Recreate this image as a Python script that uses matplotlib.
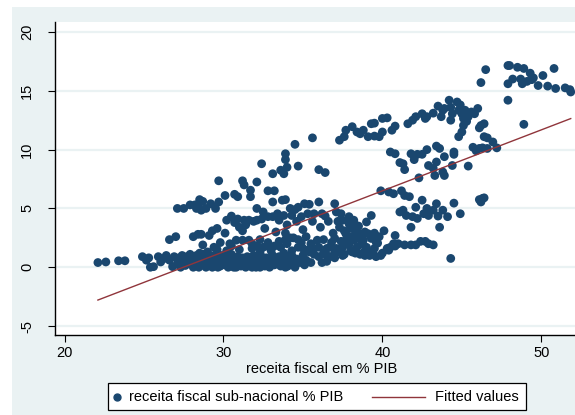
import numpy as np
import matplotlib
matplotlib.use("Agg")
import matplotlib.pyplot as plt
from matplotlib.patches import Rectangle
from matplotlib.lines import Line2D

plt.rcParams['font.family'] = ['Liberation Sans', 'DejaVu Sans']

# receita fiscal em % PIB (x) vs receita fiscal sub-nacional % PIB (y), grouped by area of the plot
low_left = [(22.1, 0.4), (22.6, 0.45), (23.4, 0.55), (23.8, 0.55),
            (24.9, 0.9), (25.15, 0.6), (25.3, 0.8), (25.4, 0.0), (25.6, 0.05), (25.9, 0.9),
            (26.05, 0.45), (26.2, 0.7), (26.4, 1.0), (26.6, 0.6), (26.8, 0.05), (26.9, 0.9)]

low_band = [(27.1, 0.3), (27.2, 0.8), (27.25, 0.55), (27.3, 0.0), (27.4, 1.0), (27.45, 0.7),
            (27.5, 0.5), (27.6, 0.15), (27.7, 0.9), (27.8, 0.6), (27.9, 1.1), (27.9, 0.35),
            (28.0, 0.3), (28.1, 0.0), (28.2, 0.8), (28.3, 1.0), (28.4, 0.5), (28.45, 0.0),
            (28.5, 0.9), (28.6, 0.2), (28.7, 1.1), (28.75, 0.35), (28.8, 0.6), (28.9, 0.0),
            (29.0, 0.9), (29.05, 0.15), (29.1, 0.4), (29.2, 0.7), (29.3, 0.0), (29.4, 1.0),
            (29.5, 0.3), (29.55, 0.6), (29.6, 0.8), (29.65, 0.0), (29.7, 0.5), (29.8, 0.1),
            (29.9, 1.0), (30.0, 0.6), (30.05, 0.35), (30.1, 0.2), (30.2, 0.9), (30.3, 0.0),
            (30.35, 0.75), (30.4, 0.5), (30.5, 1.1), (30.6, 0.3), (30.65, 0.0), (30.7, 0.7),
            (30.8, 0.0), (30.9, 0.9), (31.0, 0.4), (31.05, 0.7), (31.1, 0.1), (31.2, 0.8),
            (31.25, 0.25), (31.3, 0.5), (31.4, 0.0), (31.5, 0.9), (31.55, 0.45), (31.6, 0.3),
            (31.7, 0.6), (31.8, 0.0), (31.9, 1.0), (32.0, 0.2), (32.05, 0.0), (32.1, 0.7),
            (32.2, 0.4), (32.3, 0.0), (32.4, 0.9), (32.5, 0.5), (32.55, 0.25), (32.6, 0.1),
            (32.7, 0.8), (32.8, 0.3), (32.9, 0.0), (33.0, 0.6), (33.05, 0.35), (33.1, 1.0),
            (33.2, 0.2), (33.3, 0.7), (33.4, 0.4), (33.5, 0.9), (33.55, 0.55), (33.6, 0.1),
            (33.7, 0.6), (33.8, 0.3), (33.9, 0.0), (34.0, 0.8), (34.05, 0.1), (34.1, 0.5),
            (34.3, 1.0), (34.4, 0.3), (34.5, 0.0), (34.6, 0.7), (34.8, 0.4), (35.0, 1.0),
            (35.1, 0.2), (35.2, 0.6), (35.5, 0.4), (35.7, 1.1), (36.0, 0.9), (36.2, 0.4),
            (36.5, 1.0), (36.5, 0.5), (36.7, 0.9), (37.0, 1.2), (37.0, 0.8), (37.3, 1.3),
            (37.5, 1.0), (37.6, 1.1), (38.0, 1.4), (38.1, 1.3), (38.3, 1.2), (38.6, 1.1),
            (39.1, 1.3), (39.6, 0.9), (40.0, 1.2), (40.3, 1.5), (40.5, 1.7)]

mid_band = [(28.5, 1.2), (28.8, 1.0), (29.0, 1.3), (29.6, 1.5), (30.2, 1.4), (30.8, 2.3),
            (31.0, 1.5), (31.2, 2.3), (31.6, 2.3), (31.8, 1.6), (31.8, 2.0), (32.1, 1.8),
            (32.3, 2.35), (32.3, 1.3), (32.5, 1.7), (32.9, 1.7), (33.0, 1.4), (33.2, 1.8),
            (33.6, 1.7), (33.8, 1.2), (33.9, 2.35), (34.2, 2.5), (34.3, 1.4), (34.4, 2.5),
            (34.7, 2.35), (34.7, 1.7), (35.0, 1.6), (35.3, 1.45), (35.4, 1.3), (35.7, 1.6),
            (36.0, 1.7), (36.3, 2.35), (36.3, 1.2), (36.5, 1.6), (36.7, 1.7), (37.0, 2.45),
            (37.1, 1.6), (37.5, 1.7), (37.7, 2.3), (37.9, 1.9), (38.2, 2.3), (38.4, 1.7),
            (38.7, 2.0), (38.9, 1.0), (39.0, 1.7), (39.2, 1.0), (39.5, 1.6), (39.7, 2.05),
            (39.9, 1.0), (40.1, 3.1), (40.3, 1.6), (40.4, 1.45), (40.8, 2.7),
            (40.7, 2.0), (41.0, 2.0), (41.4, 1.9), (41.8, 1.9), (42.1, 1.9), (42.4, 2.2),
            (42.7, 2.2), (42.9, 2.0), (43.2, 1.9), (44.3, 0.75),
            (34.0, 2.0), (34.9, 2.1), (35.5, 2.0), (35.9, 2.3), (36.8, 2.1), (33.5, 2.2),
            (32.8, 2.1), (30.5, 1.8), (29.4, 1.7), (38.9, 1.4), (39.4, 1.25), (40.8, 1.8)]

rising_left = [(26.6, 2.35), (27.0, 2.6), (28.1, 2.6), (28.4, 2.8), (28.6, 2.8), (28.7, 1.9),
               (29.1, 2.7), (29.3, 3.1), (29.6, 3.3), (29.8, 2.1), (30.1, 2.9), (30.4, 2.0),
               (27.1, 5.0), (27.5, 5.0), (27.9, 5.3), (28.2, 5.3), (28.3, 5.0), (28.5, 5.75),
               (28.5, 5.5), (28.6, 4.85), (28.7, 5.6), (28.9, 5.0), (29.2, 5.4), (29.5, 5.0),
               (29.7, 5.55), (30.1, 6.1), (29.7, 7.35)]

upper_mid = [(30.2, 4.0), (30.5, 4.35), (30.7, 3.8), (30.9, 4.1), (31.0, 3.4), (31.2, 3.1),
             (31.3, 4.0), (31.6, 4.0), (31.9, 3.9), (32.1, 4.0), (32.4, 4.1), (32.5, 4.7),
             (32.8, 4.3), (33.1, 5.55), (33.1, 4.3), (33.4, 4.55), (33.5, 4.0), (33.7, 5.7),
             (33.8, 4.4), (33.9, 5.75), (34.2, 5.0), (34.3, 4.4), (34.5, 4.9), (34.7, 5.1),
             (34.9, 4.3), (35.1, 5.4), (35.3, 4.55), (35.4, 5.35), (35.7, 4.55), (36.0, 5.55),
             (36.2, 4.55), (36.4, 4.35), (37.0, 5.4), (37.1, 4.7), (37.4, 4.55),
             (32.1, 5.0), (31.4, 3.6), (32.6, 3.3), (33.3, 3.0), (34.0, 3.6), (34.6, 3.9),
             (35.0, 3.2), (35.6, 3.9), (36.1, 3.4), (36.6, 3.9), (33.9, 2.9), (35.2, 2.6),
             (32.8, 6.5), (33.2, 6.5), (30.7, 6.2), (30.9, 6.0), (31.2, 7.35), (31.3, 7.0),
             (31.7, 6.55), (31.7, 6.0), (32.1, 7.25), (32.4, 8.8), (33.1, 7.95), (33.6, 8.25),
             (33.8, 7.95), (33.9, 9.15), (33.9, 9.65), (34.0, 8.5), (34.7, 8.6), (34.5, 10.45),
             (35.6, 11.0), (36.0, 8.3), (36.4, 8.05)]

blob_38 = [(37.3, 3.4), (37.5, 4.0), (37.6, 3.1), (37.9, 4.3), (37.7, 2.85), (37.9, 3.7),
           (38.1, 2.6), (38.2, 4.0), (38.3, 3.1), (38.4, 2.45), (38.6, 2.85), (38.8, 2.3),
           (39.0, 3.85), (39.1, 2.85), (39.3, 4.4), (39.3, 2.45), (39.6, 2.15), (39.8, 2.6),
           (38.0, 3.3), (38.5, 3.5), (38.9, 3.0), (37.4, 2.2), (36.9, 2.9),
           (37.8, 2.5), (38.3, 3.6), (38.7, 2.6), (39.5, 2.9), (37.2, 3.9)]

right_mid = [(39.9, 6.5), (40.4, 6.4), (40.7, 6.25), (41.1, 4.7), (41.2, 6.5), (41.3, 4.85),
             (41.4, 6.1), (41.5, 4.4), (41.7, 6.0), (41.8, 3.4), (41.9, 4.3), (42.1, 5.1),
             (42.2, 4.15), (42.5, 5.7), (42.6, 4.55), (42.8, 5.0), (42.9, 4.4), (43.2, 4.85),
             (43.4, 5.4), (43.5, 4.35), (43.6, 3.4), (43.8, 4.85), (44.1, 4.3), (44.5, 5.45),
             (44.9, 4.55), (45.4, 8.6), (46.1, 5.75), (46.2, 5.55), (46.3, 5.85), (46.4, 5.9)]

right_upper = [(40.5, 9.8), (40.8, 9.65), (41.1, 8.9), (41.3, 8.8), (41.4, 8.3), (41.8, 9.65),
               (42.0, 9.15), (42.2, 9.6), (42.5, 9.6), (42.3, 7.6), (42.8, 10.0), (42.9, 8.65),
               (43.2, 8.4), (43.3, 7.8), (43.4, 10.3), (43.6, 10.1), (43.4, 8.95), (43.8, 8.1),
               (43.9, 9.4), (43.9, 7.8), (44.4, 8.65), (44.5, 9.8), (44.5, 9.6),
               (45.7, 10.2), (45.9, 9.9), (46.1, 10.1), (46.3, 10.15), (46.6, 10.1),
               (46.95, 10.65), (47.2, 10.15)]

top_arc = [(37.3, 10.8), (37.6, 11.1), (37.7, 11.65), (38.1, 11.95), (38.4, 11.5), (38.6, 11.35),
           (38.8, 11.65), (39.1, 11.1), (39.3, 12.2), (39.5, 12.25), (39.5, 11.15), (39.8, 11.1),
           (40.0, 11.5), (40.0, 12.65), (40.3, 12.7), (40.6, 11.65), (40.8, 12.0), (41.6, 12.2),
           (41.9, 12.5), (42.1, 12.8), (42.5, 13.05), (42.7, 12.65), (42.8, 12.8), (43.2, 13.1),
           (43.5, 13.7), (43.7, 12.8), (43.8, 13.35), (43.9, 13.5), (44.2, 14.2), (44.3, 13.6),
           (44.3, 12.5), (44.4, 13.05), (44.7, 14.05), (44.8, 13.35), (45.0, 13.05),
           (45.1, 12.65), (45.2, 13.35), (44.8, 11.1), (45.0, 11.5), (45.1, 12.05),
           (45.4, 12.8), (45.6, 13.2), (45.8, 13.05), (46.0, 13.5), (46.2, 12.05),
           (46.4, 12.2), (46.1, 11.85), (46.4, 11.1), (46.6, 11.0), (44.9, 13.8), (45.3, 12.4)]

top_right = [(46.2, 15.7), (46.5, 16.8), (47.9, 14.2), (47.9, 15.6), (47.9, 17.15), (48.0, 17.15),
             (48.2, 16.0), (48.5, 17.0), (48.7, 16.0), (48.8, 15.6), (48.9, 16.9), (48.9, 12.15),
             (49.1, 15.8), (49.3, 16.5), (49.4, 15.95), (49.5, 16.1), (49.8, 15.45), (50.1, 16.3),
             (50.4, 15.4), (50.8, 16.9), (50.9, 15.2), (51.5, 15.25), (51.8, 15.1), (51.85, 14.9)]

# linear fit reported as "Fitted values"
fit_intercept = -14.25
fit_slope = 0.5186

groups = [low_left, low_band, mid_band, rising_left, upper_mid, blob_38,
          right_mid, right_upper, top_arc, top_right]
pts = np.array([p for g in groups for p in g])
x, y = pts[:, 0], pts[:, 1]

navy = '#1a476f'
maroon = '#90353b'
bg = '#eaf2f3'

W, H = 575, 415
fig = plt.figure(figsize=(W / 100, H / 100), dpi=100)
fig.patch.set_facecolor('white')


def fx(px):
    return px / W


def fy(py):
    return 1 - py / H


# outer graph region (light blue-grey)
fig.add_artist(Rectangle((fx(12), 0), 1 - fx(12), fy(7), transform=fig.transFigure,
                         facecolor=bg, edgecolor='none', zorder=0))

ax = fig.add_axes([fx(55), fy(335), fx(589) - fx(55), fy(22) - fy(335)])
ax.set_facecolor('white')
ax.set_xlim(19.40, 53.0)
ax.set_ylim(-5.76, 20.85)

for yv in [-5, 0, 5, 10, 15, 20]:
    ax.axhline(yv, color=bg, lw=1.6, zorder=1)

ax.scatter(x, y, s=40, color=navy, edgecolors='none', zorder=3)
xf = np.array([x.min(), x.max()])
ax.plot(xf, fit_intercept + fit_slope * xf, color=maroon, lw=1.0, zorder=4)

ax.set_xticks([20, 30, 40, 50])
ax.set_yticks([-5, 0, 5, 10, 15, 20])
ax.set_yticklabels(['-5', '0', '5', '10', '15', '20'], rotation=90, va='center')
ax.tick_params(axis='both', direction='out', length=5, width=0.8, labelsize=10.5,
               color='black', pad=3)
ax.tick_params(axis='y', pad=10)
for s in ['top', 'right']:
    ax.spines[s].set_visible(False)
for s in ['left', 'bottom']:
    ax.spines[s].set_linewidth(1.0)
    ax.spines[s].set_color('black')
ax.set_xlabel('receita fiscal em % PIB', fontsize=10.5, labelpad=1)

# legend box below the plot
fig.add_artist(Rectangle((fx(108), fy(410)), fx(526) - fx(108), fy(383) - fy(410),
                         transform=fig.transFigure, facecolor='white', edgecolor='black',
                         lw=0.9, zorder=5))
fig.add_artist(Line2D([fx(117)], [fy(396.5)], marker='o', markersize=5, color=navy,
                      linestyle='none', transform=fig.transFigure, zorder=6))
fig.text(fx(129), fy(397), 'receita fiscal sub-nacional % PIB', fontsize=10.5,
         va='center', ha='left', zorder=6)
fig.add_artist(Line2D([fx(372), fx(425)], [fy(396.5), fy(396.5)], color=maroon, lw=1.0,
                      transform=fig.transFigure, zorder=6))
fig.text(fx(435), fy(397), 'Fitted values', fontsize=10.5, va='center', ha='left', zorder=6)

fig.savefig('out.png', dpi=100, facecolor=fig.get_facecolor())
